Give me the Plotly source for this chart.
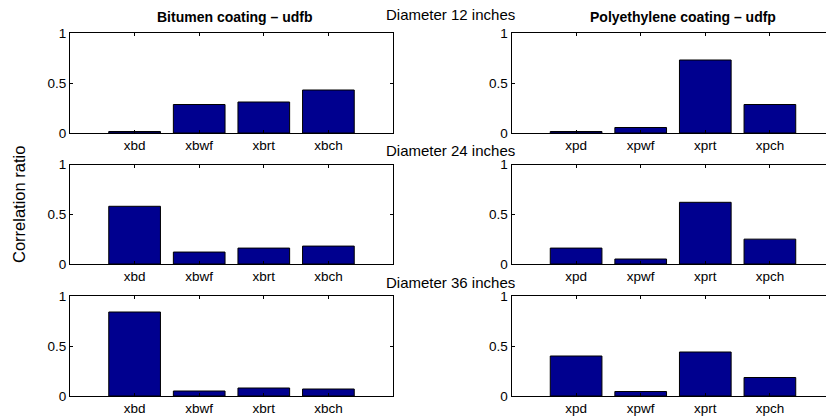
import plotly.graph_objects as go

bitumen_labels = ["xbd", "xbwf", "xbrt", "xbch"]
poly_labels = ["xpd", "xpwf", "xprt", "xpch"]

bitumen_12 = [0.015, 0.285, 0.31, 0.43]
poly_12 = [0.015, 0.055, 0.73, 0.285]
bitumen_24 = [0.58, 0.12, 0.16, 0.18]
poly_24 = [0.16, 0.05, 0.62, 0.25]
bitumen_36 = [0.84, 0.05, 0.08, 0.07]
poly_36 = [0.40, 0.045, 0.44, 0.185]

diameter_titles = ["Diameter 12 inches", "Diameter 24 inches", "Diameter 36 inches"]
column_titles = ["Bitumen coating \u2013 udfb", "Polyethylene coating \u2013 udfp"]
y_label = "Correlation ratio"

W, H = 826, 419
FONT = "Liberation Sans, Arial, Helvetica, sans-serif"
BAR = "rgb(0,0,143)"

left_px = (70, 393)
right_px = (511.5, 826)
unit = (left_px[1] - left_px[0]) / 5.0
right_max = -1 + (right_px[1] - right_px[0]) / unit
rows_px = [(33, 133), (164.5, 264), (296, 396)]

fig = go.Figure()
series = [(bitumen_12, poly_12), (bitumen_24, poly_24), (bitumen_36, poly_36)]

k = 0
for r, (bvals, pvals) in enumerate(series):
    ytop, ybot = rows_px[r]
    ydom = [1 - ybot / H, 1 - ytop / H]
    for c, (labels, vals) in enumerate([(bitumen_labels, bvals), (poly_labels, pvals)]):
        k += 1
        xs = "x" if k == 1 else f"x{k}"
        ys = "y" if k == 1 else f"y{k}"
        fig.add_trace(go.Bar(
            x=labels, y=vals, xaxis=xs, yaxis=ys,
            marker=dict(color=BAR, line=dict(color="black", width=1)),
            width=0.8, showlegend=False, hoverinfo="x+y",
        ))
        px = left_px if c == 0 else right_px
        xdom = [px[0] / W, min(1.0, px[1] / W)]
        xr = [-1, 4] if c == 0 else [-1, right_max]
        xkey = "xaxis" if k == 1 else f"xaxis{k}"
        ykey = "yaxis" if k == 1 else f"yaxis{k}"
        fig.layout[xkey] = dict(
            domain=xdom, anchor=ys, type="category", range=xr,
            showline=True, linecolor="black", linewidth=1, mirror="ticks",
            ticks="inside", ticklen=3, tickcolor="black", showgrid=False,
            tickfont=dict(family=FONT, size=13.5, color="black"),
            zeroline=False, fixedrange=True, automargin=False,
        )
        fig.layout[ykey] = dict(
            domain=ydom, anchor=xs, range=[0, 1],
            tickvals=[0, 0.5, 1], ticktext=["0", "0.5", "1"],
            showline=True, linecolor="black", linewidth=1,
            mirror="ticks" if c == 0 else False,
            ticks="inside", ticklen=3, tickcolor="black", showgrid=False,
            tickfont=dict(family=FONT, size=13.5, color="black"),
            zeroline=False, fixedrange=True, automargin=False,
        )

annotations = []
diam_y = [15, 150, 282]
for t, yy in zip(diameter_titles, diam_y):
    annotations.append(dict(
        text=t, x=450 / W, y=1 - yy / H, xref="paper", yref="paper",
        xanchor="center", yanchor="middle", showarrow=False,
        font=dict(family=FONT, size=15, color="black"),
    ))
annotations.append(dict(
    text="<b>" + column_titles[0] + "</b>", x=235.5 / W, y=1 - 17 / H,
    xref="paper", yref="paper", xanchor="center", yanchor="middle",
    showarrow=False, font=dict(family=FONT, size=14, color="black"),
))
annotations.append(dict(
    text="<b>" + column_titles[1] + "</b>", x=682.5 / W, y=1 - 17 / H,
    xref="paper", yref="paper", xanchor="center", yanchor="middle",
    showarrow=False, font=dict(family=FONT, size=14, color="black"),
))
annotations.append(dict(
    text=y_label, x=19 / W, y=1 - 205 / H, xref="paper", yref="paper",
    xanchor="center", yanchor="middle", showarrow=False, textangle=-90,
    font=dict(family=FONT, size=16.5, color="black"),
))

fig.update_layout(
    template="none",
    width=W, height=H, margin=dict(l=0, r=0, t=0, b=0, pad=0),
    paper_bgcolor="white", plot_bgcolor="white",
    annotations=annotations, bargap=0.2,
)

fig.write_html("out.html", config={"displayModeBar": False})
